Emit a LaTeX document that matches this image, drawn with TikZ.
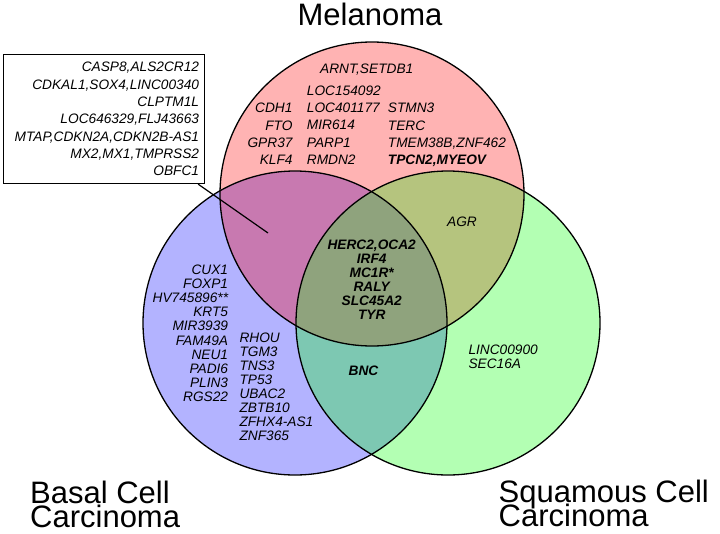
\documentclass[tikz,border=0pt]{standalone}
\usepackage{fontspec}
\setmainfont{Liberation Sans}
\usepackage{tikz}
\usetikzlibrary{positioning}
\definecolor{melred}{RGB}{255,179,179}
\definecolor{bccblue}{RGB}{179,179,255}
\definecolor{sccgreen}{RGB}{179,255,179}
\definecolor{melbcc}{RGB}{200,121,176}
\definecolor{melscc}{RGB}{181,196,126}
\definecolor{bccscc}{RGB}{125,200,178}
\definecolor{allthree}{RGB}{143,163,125}

\begin{document}
\begin{tikzpicture}[x=1pt,y=-1pt,
        gene/.style={font=\fontsize{13.7}{14.1}\selectfont\itshape, inner sep=0pt},
        genewide/.style={font=\fontsize{13.7}{17.35}\selectfont\itshape, inner sep=0pt},
        genebold/.style={font=\fontsize{13.7}{14}\selectfont\bfseries\itshape, inner sep=0pt},
        title/.style={font=\fontsize{31}{31}\selectfont, inner sep=0pt, anchor=base west},
        ring/.style={draw=black, line width=1.3pt}]
        \useasboundingbox (0,0) rectangle (720,533);
        \coordinate (mel) at (372,194);
        \coordinate (bcc) at (295,323);
        \coordinate (scc) at (448,323);
        \fill[melred] (mel) circle[radius=152pt];
        \fill[bccblue] (bcc) circle[radius=152pt];
        \fill[sccgreen] (scc) circle[radius=152pt];
        \begin{scope}
            \clip (mel) circle[radius=152pt];
            \fill[melbcc] (bcc) circle[radius=152pt];
            \fill[melscc] (scc) circle[radius=152pt];
        \end{scope}
        \begin{scope}
            \clip (bcc) circle[radius=152pt];
            \fill[bccscc] (scc) circle[radius=152pt];
            \clip (mel) circle[radius=152pt];
            \fill[allthree] (scc) circle[radius=152pt];
        \end{scope}
        \draw[ring] (mel) circle[radius=152pt];
        \draw[ring] (bcc) circle[radius=152pt];
        \draw[ring] (scc) circle[radius=152pt];

        \node[title, anchor=base] (meltitle) at (370,25.5) {Melanoma};
        \node[title] (bcctitle) at (30,503) {Basal Cell};
        \node[title] (bcctitle2) at ([yshift=-24pt]bcctitle.base west) {Carcinoma};
        \node[title] (scctitle) at (498.5,502) {Squamous Cell};
        \node[title] (scctitle2) at ([yshift=-24pt]scctitle.base west) {Carcinoma};

        \node[genewide, draw, line width=1.2pt, anchor=north west, align=right, text width=190pt,
            inner xsep=5.5pt, minimum height=129pt] (box) at (3,54)
            {CASP8,ALS2CR12\\CDKAL1,SOX4,LINC00340\\CLPTM1L\\LOC646329,FLJ43663\\
             MTAP,CDKN2A,CDKN2B-AS1\\MX2,MX1,TMPRSS2\\OBFC1};
        \coordinate (mbpt) at (268,233);
        \draw[line width=1.2pt] ([xshift=-7pt]box.south east) -- (mbpt);

        \node[gene, anchor=base] (meltop) at (366.7,73.2) {ARNT,SETDB1};
        \node[genewide, anchor=north east, align=right] (mela) at (292.7,103.1)
            {CDH1\\FTO\\GPR37\\KLF4};
        \node[genewide, anchor=north west, align=left] (melb) at (306.7,85.5)
            {LOC154092\\LOC401177\\MIR614\\PARP1\\RMDN2};
        \node[genewide, anchor=north west, align=left] (melc) at (387.7,103.1)
            {STMN3\\TERC\\TMEM38B,ZNF462\\\textbf{TPCN2,MYEOV}};

        \node[gene, anchor=base] (melscctxt) at (462,226) {AGR};
        \node[genebold, anchor=north, align=center] (alltxt) at (371.7,239.8)
            {HERC2,OCA2\\IRF4\\MC1R*\\RALY\\SLC45A2\\TYR};
        \node[genebold, anchor=base] (bccscctxt) at (363.5,375.6) {BNC};
        \node[gene, anchor=north west, align=left] (scctxt) at (468.3,344.8)
            {LINC00900\\SEC16A};

        \node[gene, anchor=north east, align=right] (bcca) at (228.3,264.8)
            {CUX1\\FOXP1\\HV745896**\\KRT5\\MIR3939\\FAM49A\\NEU1\\PADI6\\PLIN3\\RGS22};
        \node[gene, anchor=north west, align=left] (bccb) at (239.3,332.5)
            {RHOU\\TGM3\\TNS3\\TP53\\UBAC2\\ZBTB10\\ZFHX4-AS1\\ZNF365};
    \end{tikzpicture}
\end{document}
